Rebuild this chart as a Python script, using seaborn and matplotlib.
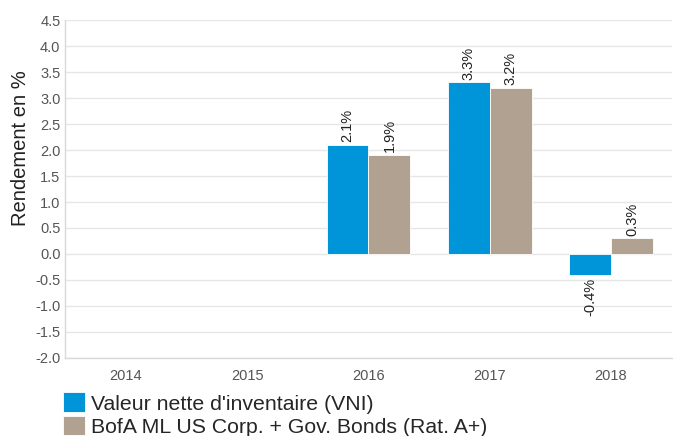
import numpy as np
import pandas as pd
import matplotlib
matplotlib.use("Agg")
import matplotlib.pyplot as plt
import seaborn as sns

years = ["2014", "2015", "2016", "2017", "2018"]
vni = [np.nan, np.nan, 2.1, 3.3, -0.4]
bench = [np.nan, np.nan, 1.9, 3.2, 0.3]
series_names = ["Valeur nette d'inventaire (VNI)", "BofA ML US Corp. + Gov. Bonds (Rat. A+)"]
colors = ["#0095d8", "#b0a191"]

df = pd.DataFrame({
    "Année": years * 2,
    "Rendement": vni + bench,
    "Série": [series_names[0]] * len(years) + [series_names[1]] * len(years),
})

sns.set_style("white")
plt.rcParams["font.family"] = ["Liberation Sans", "DejaVu Sans"]

fig = plt.figure(figsize=(6.73, 4.36), dpi=100)
ax = fig.add_axes([0.097, 0.179, 0.901, 0.775])

sns.barplot(data=df, x="Année", y="Rendement", hue="Série", order=years,
            hue_order=series_names, palette=colors, saturation=1, width=0.69,
            edgecolor="white", linewidth=0.6, ax=ax, legend=True)

# value labels, rotated like the original
for cont in ax.containers:
    labels = ["" if np.isnan(v) else f"{v:.1f}%" for v in cont.datavalues]
    ax.bar_label(cont, labels=labels, rotation=90, padding=2,
                 fontsize=10.5, color="#222222")

ax.set_ylim(-2.0, 4.5)
ax.set_xlim(-0.5, 4.5)
ax.set_yticks(np.arange(-2.0, 4.51, 0.5))
ax.set_yticklabels([f"{t:.1f}" for t in np.arange(-2.0, 4.51, 0.5)])
ax.yaxis.grid(True, color="#e6e6e6", linewidth=1)
ax.set_axisbelow(True)
ax.tick_params(axis="both", length=0, labelsize=10.5, colors="#555555")
ax.tick_params(axis="x", pad=8)
ax.set_xlabel("")
ax.set_ylabel("Rendement en %", fontsize=14.5, color="#222222")
ax.yaxis.set_label_coords(-0.058, 0.62)
for side in ["top", "right"]:
    ax.spines[side].set_visible(False)
for side in ["left", "bottom"]:
    ax.spines[side].set_color("#d9d9d9")
    ax.spines[side].set_linewidth(1)

handles, labels = ax.get_legend_handles_labels()
ax.get_legend().remove()
fig.legend(handles, labels, loc="upper left", bbox_to_anchor=(0.0936, 0.1),
           frameon=False, fontsize=15.3, handlelength=1.05, handleheight=1.05,
           handletextpad=0.25, labelspacing=0.1, borderpad=0, borderaxespad=0)

fig.savefig("out.png", dpi=100)
